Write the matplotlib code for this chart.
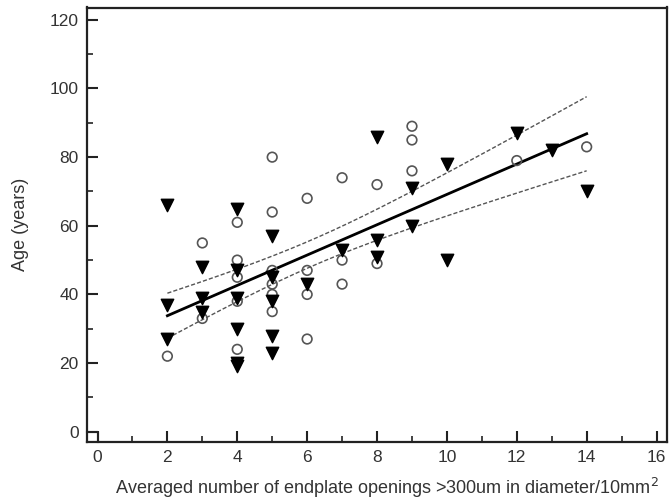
import numpy as np
import matplotlib
matplotlib.use("Agg")
import matplotlib.pyplot as plt
from matplotlib.ticker import MultipleLocator

plt.rcParams['font.family'] = ['Liberation Sans', 'DejaVu Sans']

# Open-circle group
circle_x = [2, 3, 3, 4, 4, 4, 4, 4, 5, 5, 5, 5, 5, 5, 6, 6, 6, 6, 7, 7, 7, 8, 8, 9, 9, 9, 12, 14]
circle_y = [22, 55, 33, 61, 50, 45, 38, 24, 80, 64, 47, 43, 40, 35, 68, 47, 40, 27, 74, 50, 43, 72, 49, 89, 85, 76, 79, 83]

# Filled-triangle group
tri_x = [2, 2, 2, 3, 3, 3, 4, 4, 4, 4, 4, 4, 5, 5, 5, 5, 5, 6, 7, 8, 8, 8, 9, 9, 10, 10, 12, 13, 14]
tri_y = [66, 37, 27, 48, 39, 35, 65, 47, 39, 30, 20, 19, 57, 45, 38, 28, 23, 43, 53, 86, 56, 51, 71, 60, 78, 50, 87, 82, 70]

x_ticks = [0, 2, 4, 6, 8, 10, 12, 14, 16]
y_ticks = [0, 20, 40, 60, 80, 100, 120]
T_CRIT = 2.004  # two-sided 95 %, df = n - 2

# Linear regression on all points with 95 % confidence band of the mean
xa = np.array(circle_x + tri_x, dtype=float)
ya = np.array(circle_y + tri_y, dtype=float)
n = len(xa)
slope, intercept = np.polyfit(xa, ya, 1)
resid = ya - (intercept + slope * xa)
s = np.sqrt(np.sum(resid ** 2) / (n - 2))
sxx = np.sum((xa - xa.mean()) ** 2)
xf = np.linspace(xa.min(), xa.max(), 200)
yf = intercept + slope * xf
half = T_CRIT * s * np.sqrt(1.0 / n + (xf - xa.mean()) ** 2 / sxx)

fig = plt.figure(figsize=(6.72, 5.0), dpi=100)
ax = fig.add_axes([0.1295, 0.116, 0.8631, 0.869])

ax.plot(xf, yf + half, color='#555555', lw=1.0, ls=(0, (3, 1.5)), zorder=2)
ax.plot(xf, yf - half, color='#555555', lw=1.0, ls=(0, (3, 1.5)), zorder=2)
ax.plot(xf, yf, color='black', lw=2.0, zorder=3)

ax.scatter(circle_x, circle_y, s=48, facecolors='none', edgecolors='#555555',
           linewidths=1.2, zorder=4)
ax.scatter(tri_x, tri_y, s=80, marker='v', color='black', zorder=5)

xmin, xmax = -0.3, 16.3
ymin, ymax = -3.0, 123.6
ax.set_xlim(xmin, xmax)
ax.set_ylim(ymin, ymax)

# small corner box at the origin
ax.plot([xmin, 0, 0], [0, 0, ymin], color='#222222', lw=1.5, zorder=6, clip_on=False)

ax.set_xticks(x_ticks)
ax.set_yticks(y_ticks)
ax.xaxis.set_minor_locator(MultipleLocator(1))
ax.yaxis.set_minor_locator(MultipleLocator(10))
ax.tick_params(which='major', direction='in', length=8, width=1.5, color='#222222',
               labelsize=12.5, labelcolor='#333333', pad=6)
ax.tick_params(which='minor', direction='in', length=4, width=1.2, color='#222222')
for sp in ax.spines.values():
    sp.set_linewidth(1.6)
    sp.set_color('#222222')

ax.set_xlabel('Averaged number of endplate openings >300um in diameter/10mm$^2$',
              fontsize=13, color='#333333')
ax.set_ylabel('Age (years)', fontsize=13, color='#333333')
ax.xaxis.set_label_coords(0.517, -0.078)
ax.yaxis.set_label_coords(-0.10, 0.5)

fig.savefig('out.png', dpi=100)
